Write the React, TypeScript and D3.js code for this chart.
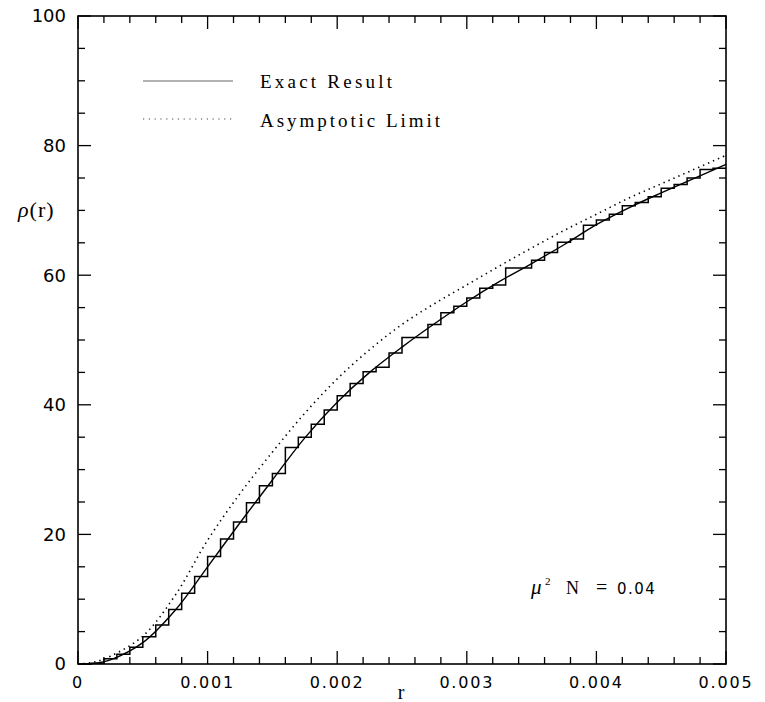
import React from "react";
import * as d3 from "d3";

// sample positions for the smooth curves (r)
const curveR = [
  0, 0.000125, 0.00025, 0.0005, 0.00075, 0.001, 0.00125, 0.0015, 0.00175, 0.002, 0.00225,
  0.0025, 0.00275, 0.003, 0.00325, 0.0035, 0.00375, 0.004, 0.00425, 0.0045, 0.00475, 0.005,
];
// Exact Result (solid)
const exactRho = [
  0, 0.1, 0.65, 3.3, 8.3, 15.0, 21.8, 28.4, 34.9, 40.4, 45.0,
  48.9, 52.5, 55.9, 59.0, 61.8, 64.7, 67.8, 70.4, 72.7, 74.9, 77.1,
];
// Asymptotic Limit (dotted)
const asymRho = [
  0, 0.3, 1.2, 4.3, 10.6, 19.1, 26.3, 32.7, 38.7, 44.0, 48.5,
  52.4, 55.6, 58.5, 61.4, 64.2, 66.9, 69.4, 71.9, 74.1, 76.3, 78.5,
];
// staircase: bin width 0.0001, level per bin
const binWidth = 0.0001;
const stepRho = [
  0, 0.1, 0.8, 1.5, 2.6, 4.2, 6.0, 8.4, 10.9, 13.5,
  16.6, 19.3, 21.9, 24.9, 27.5, 29.4, 33.4, 35.0, 37.0, 39.2,
  41.4, 43.3, 45.1, 45.8, 48.0, 50.4, 50.4, 52.4, 54.2, 55.2,
  56.5, 58.0, 58.5, 61.1, 61.1, 62.3, 63.5, 65.1, 65.6, 67.7,
  68.5, 69.4, 70.7, 71.2, 72.1, 73.4, 74.0, 75.0, 76.3, 76.5,
];

const xTickLabels = ["0", "0.001", "0.002", "0.003", "0.004", "0.005"];
const yTickLabels = ["0", "20", "40", "60", "80", "100"];

const W = 765;
const H = 702;
const margin = { top: 16, right: 39, bottom: 38, left: 78 };

export default function App() {
  const x = d3.scaleLinear().domain([0, 0.005]).range([margin.left, W - margin.right]);
  const y = d3.scaleLinear().domain([0, 100]).range([H - margin.bottom, margin.top]);
  const x0 = margin.left, x1 = W - margin.right, y0 = H - margin.bottom, y1 = margin.top;

  const smooth = d3
    .line<number>()
    .x((_, i) => x(curveR[i]))
    .curve(d3.curveCatmullRom.alpha(0.5));
  const exactPath = smooth.y((d) => y(d))(exactRho) || "";
  const asymPath = smooth.y((d) => y(d))(asymRho) || "";

  const stepPts: [number, number][] = stepRho.map((v, i) => [i * binWidth, v]);
  stepPts.push([stepRho.length * binWidth, stepRho[stepRho.length - 1]]);
  const stepPath =
    d3
      .line<[number, number]>()
      .x((d) => x(d[0]))
      .y((d) => y(d[1]))
      .curve(d3.curveStepAfter)(stepPts) || "";

  const xMinor = d3.range(0, 26).map((i) => i * 0.0002);
  const yMinor = d3.range(0, 21).map((i) => i * 5);
  const tickFont = "DejaVu Sans";
  const serif = "Liberation Serif";

  return (
    <svg
      width={W}
      height={H}
      style={{ position: "absolute", left: 0, top: 0, background: "#fff" }}
    >
      {/* frame */}
      <rect x={x0} y={y1} width={x1 - x0} height={y0 - y1} fill="none" stroke="#000" strokeWidth={1.6} />

      {/* x ticks, bottom and top */}
      {xMinor.map((t, i) => {
        const len = i % 5 === 0 ? 13 : 7;
        return (
          <g key={"xt" + i} stroke="#000" strokeWidth={1.3}>
            <line x1={x(t)} x2={x(t)} y1={y0} y2={y0 - len} />
            <line x1={x(t)} x2={x(t)} y1={y1} y2={y1 + len} />
          </g>
        );
      })}
      {/* y ticks, left and right */}
      {yMinor.map((t, i) => {
        const len = i % 4 === 0 ? 13 : 7;
        return (
          <g key={"yt" + i} stroke="#000" strokeWidth={1.3}>
            <line x1={x0} x2={x0 + len} y1={y(t)} y2={y(t)} />
            <line x1={x1} x2={x1 - len} y1={y(t)} y2={y(t)} />
          </g>
        );
      })}

      {/* tick labels */}
      {xTickLabels.map((s, i) => (
        <text
          key={"xl" + s}
          x={x(i * 0.001)}
          y={688}
          textAnchor="middle"
          fontFamily={tickFont}
          fontSize={16}
          letterSpacing={1.8}
          fill="#000"
        >
          {s}
        </text>
      ))}
      {yTickLabels.map((s, i) => (
        <text
          key={"yl" + s}
          x={66}
          y={y(i * 20)}
          dy="0.36em"
          textAnchor="end"
          fontFamily={tickFont}
          fontSize={18}
          fill="#000"
        >
          {s}
        </text>
      ))}

      {/* axis titles */}
      <text x={401} y={699} textAnchor="middle" fontFamily={serif} fontSize={20} fill="#000">
        r
      </text>
      <text x={18} y={217} fontFamily={serif} fontSize={22} letterSpacing={1} fill="#000">
        <tspan fontStyle="italic">ρ</tspan>
        <tspan>(r)</tspan>
      </text>

      {/* curves */}
      <path d={asymPath} fill="none" stroke="#000" strokeWidth={1.6} strokeDasharray="1.4 4" />
      <path d={exactPath} fill="none" stroke="#000" strokeWidth={1.4} />
      <path d={stepPath} fill="none" stroke="#000" strokeWidth={1.5} />

      {/* legend */}
      <line x1={143} x2={233} y1={81} y2={81} stroke="#666" strokeWidth={1.2} />
      <line x1={143} x2={233} y1={119} y2={119} stroke="#444" strokeWidth={1.2} strokeDasharray="1.2 4.6" />
      <text x={260} y={88} fontFamily={serif} fontSize={19} textLength={132} lengthAdjust="spacing" fill="#000">
        Exact Result
      </text>
      <text x={260} y={127} fontFamily={serif} fontSize={19} textLength={180} lengthAdjust="spacing" fill="#000">
        Asymptotic Limit
      </text>

      {/* annotation */}
      <g fill="#000">
        <text x={531} y={594} fontFamily={serif} fontStyle="italic" fontSize={21}>μ</text>
        <text x={545} y={585} fontFamily={serif} fontSize={11}>2</text>
        <text x={566} y={594} fontFamily={serif} fontSize={18}>N</text>
        <text x={596} y={594} fontFamily={serif} fontSize={20}>=</text>
        <text x={617} y={594} fontFamily={tickFont} fontSize={15} letterSpacing={1.5}>0.04</text>
      </g>
    </svg>
  );
}
